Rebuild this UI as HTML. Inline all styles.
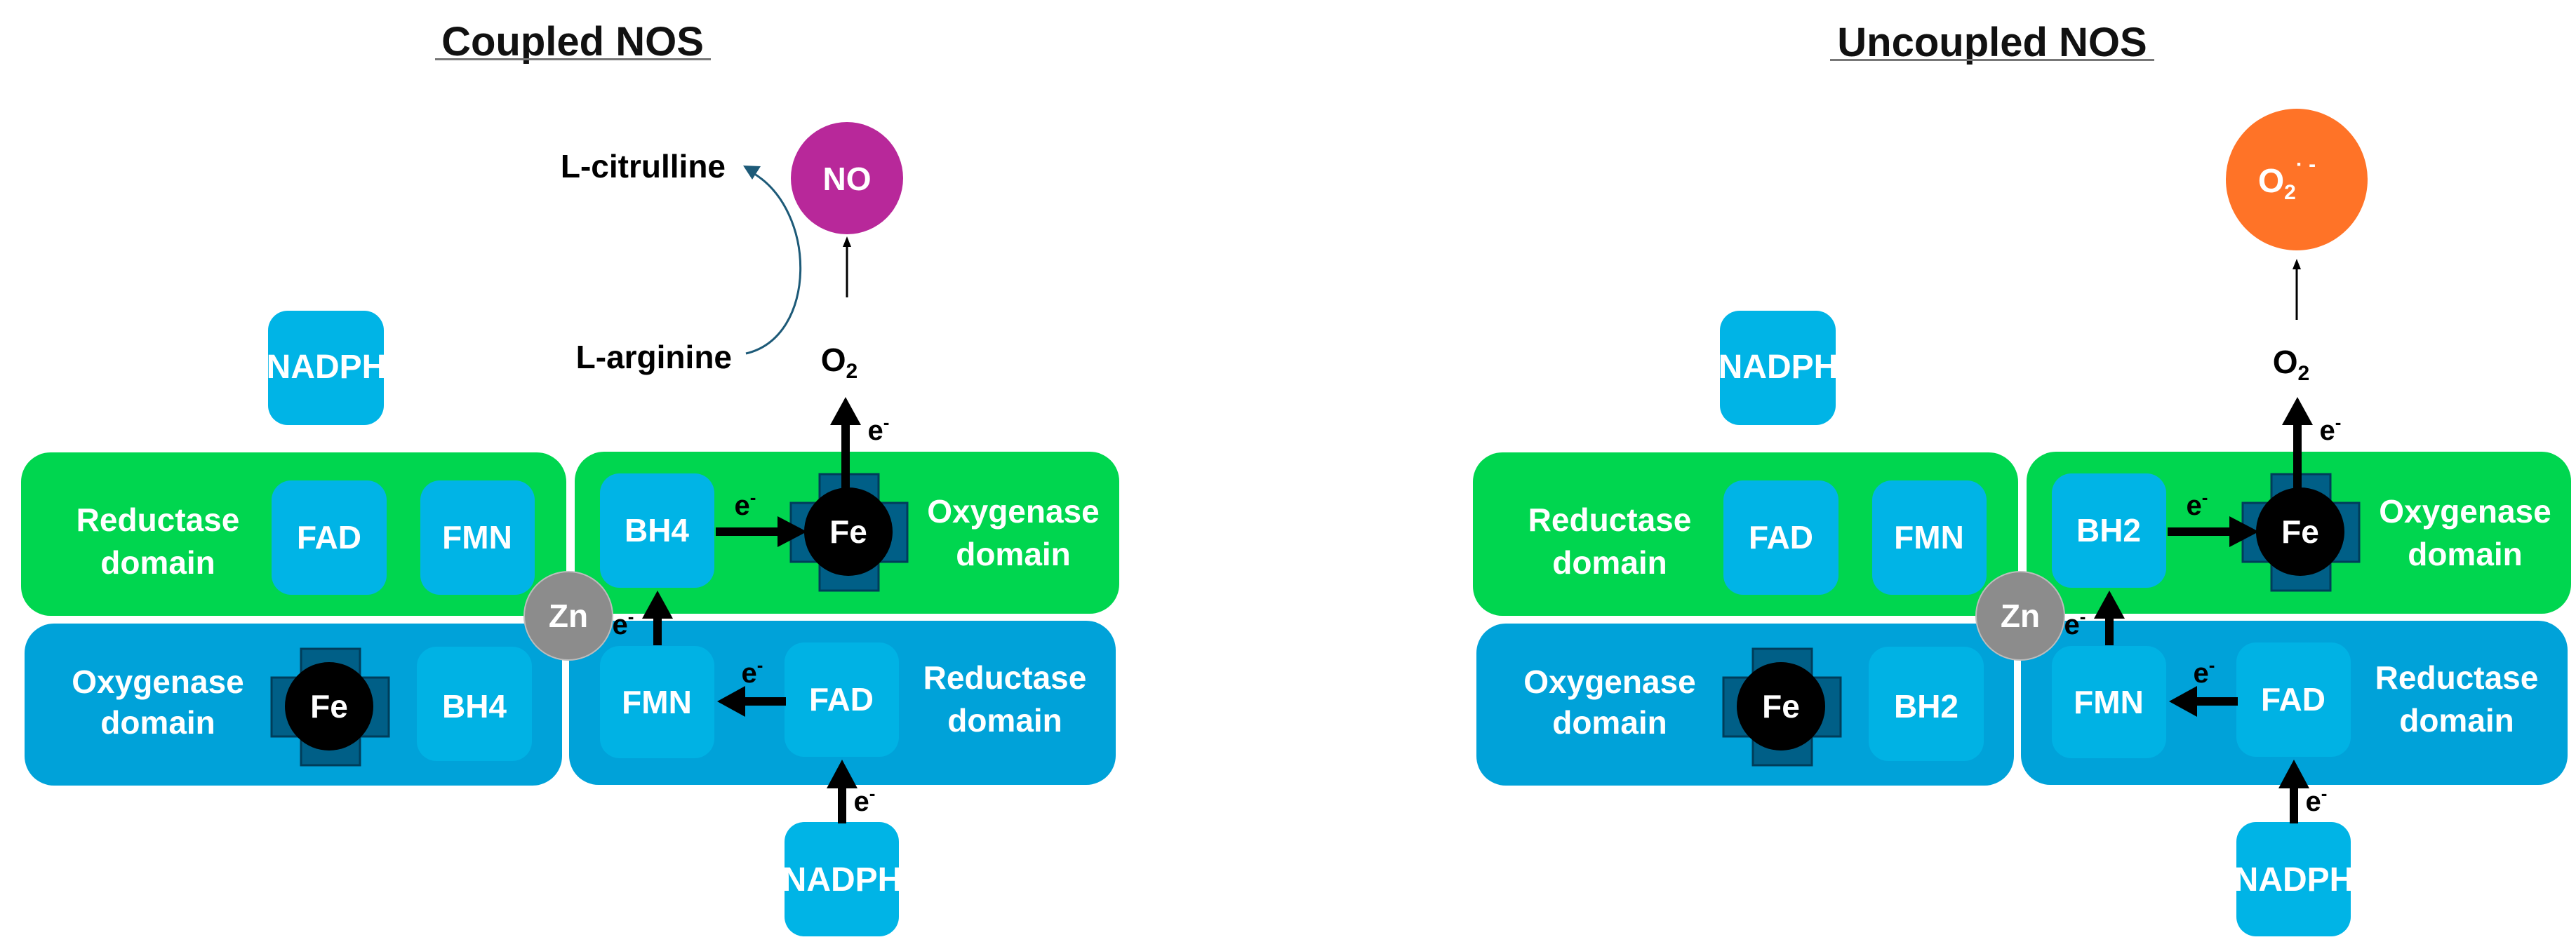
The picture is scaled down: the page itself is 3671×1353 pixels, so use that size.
<!DOCTYPE html>
<html><head><meta charset="utf-8"><style>
html,body{margin:0;padding:0;background:#fff}
svg{display:block}
text{font-family:"Liberation Sans",sans-serif;font-weight:bold}
</style></head><body>
<svg width="3671" height="1353" viewBox="0 0 3671 1353" xmlns="http://www.w3.org/2000/svg">
<defs>
<clipPath id="c1"><rect x="382" y="443" width="165" height="163" rx="28"/></clipPath>
<clipPath id="c2"><rect x="1118" y="1172" width="163" height="163" rx="28"/></clipPath>
<g id="panel">
  <rect x="30" y="645" width="777" height="233" rx="42" fill="#00D64F"/>
  <rect x="819" y="644" width="776" height="231" rx="42" fill="#00D64F"/>
  <rect x="35" y="889" width="766" height="231" rx="42" fill="#00A2D9"/>
  <rect x="811" y="885" width="779" height="234" rx="42" fill="#00A2D9"/>
  <rect x="382" y="443" width="165" height="163" rx="28" fill="#00B4E6"/>
  <rect x="387" y="685" width="164" height="163" rx="28" fill="#00B4E6"/>
  <rect x="599" y="685" width="163" height="163" rx="28" fill="#00B4E6"/>
  <rect x="594" y="922" width="164" height="163" rx="28" fill="#00B2E4"/>
  <rect x="855" y="675" width="163" height="163" rx="28" fill="#00B4E6"/>
  <rect x="855" y="921" width="163" height="160" rx="28" fill="#00B2E4"/>
  <rect x="1118" y="916" width="163" height="163" rx="28" fill="#00B2E4"/>
  <rect x="1118" y="1172" width="163" height="163" rx="28" fill="#00B4E6"/>
  <g fill="#005F87" stroke="#003D5A" stroke-width="3">
    <rect x="387" y="966" width="167" height="84"/><rect x="429" y="925" width="84" height="166"/>
    <rect x="1127" y="717" width="166" height="84"/><rect x="1168" y="676" width="84" height="166"/>
  </g>
  <circle cx="469" cy="1007" r="63" fill="#000"/>
  <circle cx="1209" cy="758" r="63" fill="#000"/>
  <circle cx="810" cy="878" r="63" fill="#8C8C8C" stroke="#bdbdbd" stroke-width="2"/>
  <g fill="#fff" font-size="46" text-anchor="middle">
    <text x="225" y="757">Reductase</text><text x="225" y="818">domain</text>
    <text x="225" y="988">Oxygenase</text><text x="225" y="1046">domain</text>
    <text x="1444" y="745">Oxygenase</text><text x="1444" y="806">domain</text>
    <text x="1432" y="982">Reductase</text><text x="1432" y="1043">domain</text>
    <text x="465" y="539" clip-path="url(#c1)" font-size="48">NADPH</text>
    <text x="1200" y="1270" clip-path="url(#c2)" font-size="48">NADPH</text>
    <text x="469" y="782">FAD</text>
    <text x="680" y="782">FMN</text>
    <text x="936" y="1017">FMN</text>
    <text x="1199" y="1013">FAD</text>
    <text x="469" y="1023">Fe</text>
    <text x="1209" y="774">Fe</text>
    <text x="810" y="894">Zn</text>
  </g>
  <g fill="#000" stroke="none">
    <rect x="1020" y="752" width="92" height="12"/><polygon points="1108,736 1150,758 1108,780"/>
    <rect x="1199" y="600" width="12" height="100"/><polygon points="1183,606 1205,566 1227,606"/>
    <rect x="1058" y="994" width="62" height="12"/><polygon points="1062,978 1022,1000 1062,1022"/>
    <rect x="931" y="876" width="12" height="44"/><polygon points="915,882 937,842 959,882"/>
    <rect x="1194" y="1118" width="12" height="56"/><polygon points="1178,1124 1200,1083 1222,1124"/>
  </g>
  <g fill="#000" font-size="40" text-anchor="middle">
    <text x="1062" y="734">e<tspan font-size="26" dy="-16">-</tspan></text>
    <text x="1252" y="627">e<tspan font-size="26" dy="-16">-</tspan></text>
    <text x="1072" y="973">e<tspan font-size="26" dy="-16">-</tspan></text>
    <text x="888" y="904">e<tspan font-size="26" dy="-16">-</tspan></text>
    <text x="1232" y="1156">e<tspan font-size="26" dy="-16">-</tspan></text>
  </g>
</g>
</defs>

<use href="#panel"/>
<g fill="#fff" font-size="46" text-anchor="middle">
  <text x="676" y="1023">BH4</text>
  <text x="936" y="772">BH4</text>
</g>
<text x="816" y="79" font-size="58" text-anchor="middle" fill="#111">Coupled NOS</text>
<rect x="620" y="83" width="393" height="3" fill="#777"/>
<text x="1196" y="529" font-size="46" text-anchor="middle">O<tspan font-size="30" dy="10">2</tspan></text>
<line x1="1207" y1="424" x2="1207" y2="350" stroke="#000" stroke-width="3"/>
<polygon points="1201,352 1207,337 1213,352" fill="#000"/>
<circle cx="1207" cy="254" r="80" fill="#B8289A"/>
<text x="1207" y="271" font-size="46" fill="#fff" text-anchor="middle">NO</text>
<text x="1034" y="253" font-size="46" text-anchor="end">L-citrulline</text>
<text x="1043" y="525" font-size="46" text-anchor="end">L-arginine</text>
<path d="M1063,504 C1165,480 1165,300 1072,246" fill="none" stroke="#1D5A78" stroke-width="3"/>
<polygon points="1059,236 1084,237 1072,256" fill="#1D5A78"/>

<g transform="translate(2069,0)">
  <use href="#panel"/>
  <g fill="#fff" font-size="46" text-anchor="middle">
    <text x="676" y="1023">BH2</text>
    <text x="936" y="772">BH2</text>
  </g>
  <text x="1196" y="532" font-size="46" text-anchor="middle">O<tspan font-size="30" dy="10">2</tspan></text>
  <line x1="1204" y1="456" x2="1204" y2="382" stroke="#000" stroke-width="3"/>
  <polygon points="1198,384 1204,369 1210,384" fill="#000"/>
  <circle cx="1204" cy="256" r="101" fill="#FF7327"/>
  <text x="1190" y="274" font-size="48" fill="#fff" text-anchor="middle">O<tspan font-size="30" dy="10">2</tspan><tspan font-size="30" dy="-40">· -</tspan></text>
</g>
<text x="2839" y="80" font-size="58" text-anchor="middle" fill="#111">Uncoupled NOS</text>
<rect x="2608" y="84" width="462" height="3" fill="#777"/>
</svg>
</body></html>
